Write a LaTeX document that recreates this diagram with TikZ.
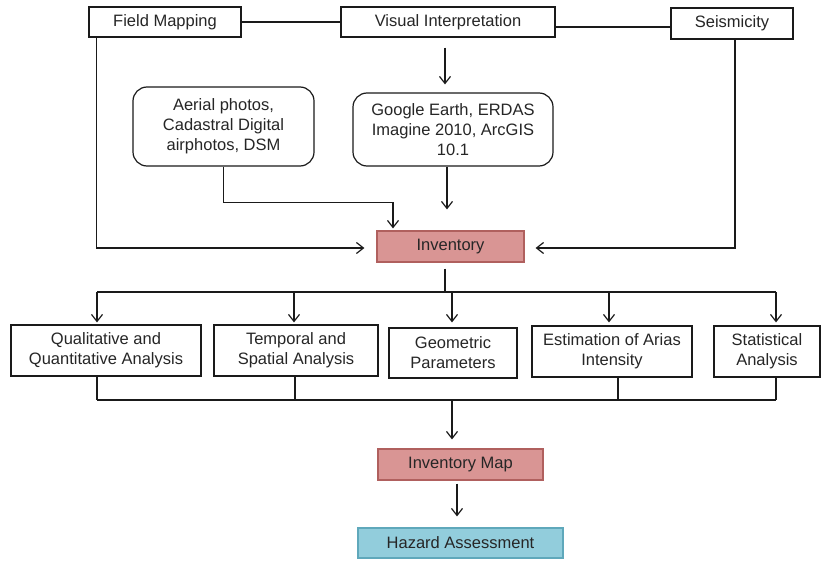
\documentclass[tikz,border=0pt]{standalone}
\usepackage{fontspec}
\setmainfont{Liberation Sans}
\usetikzlibrary{arrows.meta,calc}
\definecolor{invfill}{HTML}{D99594}
\definecolor{invdraw}{HTML}{B0605E}
\definecolor{hazfill}{HTML}{92CDDC}
\definecolor{hazdraw}{HTML}{5FA8BB}
\definecolor{lineblk}{HTML}{1A1A1A}
\tikzset{
  box/.style={draw=lineblk, line width=1.2pt, fill=white, inner sep=0pt, align=center,
    font=\fontsize{16.5}{20}\selectfont, text=black!85},
  rbox/.style={box, rounded corners=14pt},
  invbox/.style={box, fill=invfill, draw=invdraw},
  hazbox/.style={box, fill=hazfill, draw=hazdraw},
  conn/.style={draw=lineblk, line width=1.2pt},
  arr/.style={conn, -{Straight Barb[length=7pt,width=11pt,line width=1.2pt]}}
}
\begin{document}
\begin{tikzpicture}[x=1pt,y=-1pt]
\useasboundingbox (0,0) rectangle (821,561);
% top row
\node[box, minimum width=152pt, minimum height=30pt] (FM) at (165,22) {Field Mapping};
\node[box, minimum width=214pt, minimum height=30pt] (VI) at (448,22) {Visual Interpretation};
\node[box, minimum width=122pt, minimum height=31pt] (Seis) at (732,23.5) {Seismicity};
% sources
\node[rbox, minimum width=181pt, minimum height=79pt] (A) at (223.5,126.5) {Aerial photos,\\Cadastral Digital\\airphotos, DSM};
\node[rbox, minimum width=200pt, minimum height=73pt] (G) at (453,129.5) {Google Earth, ERDAS\\Imagine 2010, ArcGIS\\10.1};
% inventory
\node[invbox, minimum width=147pt, minimum height=31pt] (Inv) at (450.5,246.5) {Inventory};
% analyses
\node[box, minimum width=190pt, minimum height=51pt] (Q) at (106,350.5) {Qualitative and\\Quantitative Analysis};
\node[box, minimum width=164pt, minimum height=51pt] (T) at (296,350.5) {Temporal and\\Spatial Analysis};
\node[box, minimum width=128pt, minimum height=50pt] (Geo) at (453,353) {Geometric\\Parameters};
\node[box, minimum width=160pt, minimum height=51pt] (E) at (612,351.5) {Estimation of Arias\\Intensity};
\node[box, minimum width=106pt, minimum height=51pt] (S) at (767,351.5) {Statistical\\Analysis};
% outputs
\node[invbox, minimum width=165pt, minimum height=31pt] (IM) at (460.5,464.5) {Inventory Map};
\node[hazbox, minimum width=205pt, minimum height=30pt] (H) at (460.5,543) {Hazard Assessment};
% bus coordinates
\coordinate (b1) at (445,292);
\coordinate (b2) at (452,400);
% top connectors
\draw[conn] (FM.east) -- (VI.west);
\draw[conn] ([yshift=-5pt]VI.east) -- ([yshift=-5pt]VI.east -| Seis.west);
\draw[arr] ([xshift=-3pt,yshift=-10pt]VI.south) -- ([xshift=-8pt,yshift=8pt]G.north);
\draw[arr] ([xshift=8pt]FM.south west) |- ([xshift=-12pt,yshift=-1.5pt]Inv.west);
\draw[arr] ([xshift=3pt]Seis.south) |- ([xshift=11pt,yshift=-1.5pt]Inv.east);
\draw[arr] (A.south) -- ++(0,36) -| ([xshift=-57.5pt,yshift=2pt]Inv.north);
\draw[arr] ([xshift=-6pt]G.south) -- ([xshift=-3.5pt,yshift=21pt]Inv.north);
% inventory to analyses
\draw[conn] ([xshift=-5.5pt,yshift=-6pt]Inv.south) -- (b1);
\draw[conn] ([xshift=-9pt]Q.north |- b1) -- ([xshift=9pt]S.north |- b1);
\draw[arr] ([xshift=-9pt]Q.north |- b1) -- ([xshift=-9pt,yshift=2pt]Q.north);
\draw[arr] ([xshift=-2pt]T.north |- b1) -- ([xshift=-2pt,yshift=2pt]T.north);
\draw[arr] ([xshift=-1pt]Geo.north |- b1) -- ([xshift=-1pt,yshift=5pt]Geo.north);
\draw[arr] ([xshift=-3pt]E.north |- b1) -- ([xshift=-3pt,yshift=3pt]E.north);
\draw[arr] ([xshift=9pt]S.north |- b1) -- ([xshift=9pt,yshift=3pt]S.north);
% analyses to map
\draw[conn] ([xshift=-9pt]Q.south) -- ([xshift=-9pt]Q.south |- b2);
\draw[conn] ([xshift=-1pt]T.south) -- ([xshift=-1pt]T.south |- b2);
\draw[conn] ([xshift=6pt]E.south) -- ([xshift=6pt]E.south |- b2);
\draw[conn] ([xshift=9pt]S.south) -- ([xshift=9pt]S.south |- b2);
\draw[conn] ([xshift=-9pt]Q.south |- b2) -- ([xshift=9pt]S.south |- b2);
\draw[arr] (b2) -- ([xshift=-8.5pt,yshift=9pt]IM.north);
\draw[arr] ([xshift=-3.5pt,yshift=-3pt]IM.south) -- ([xshift=-3.5pt,yshift=11pt]H.north);
\end{tikzpicture}
\end{document}
